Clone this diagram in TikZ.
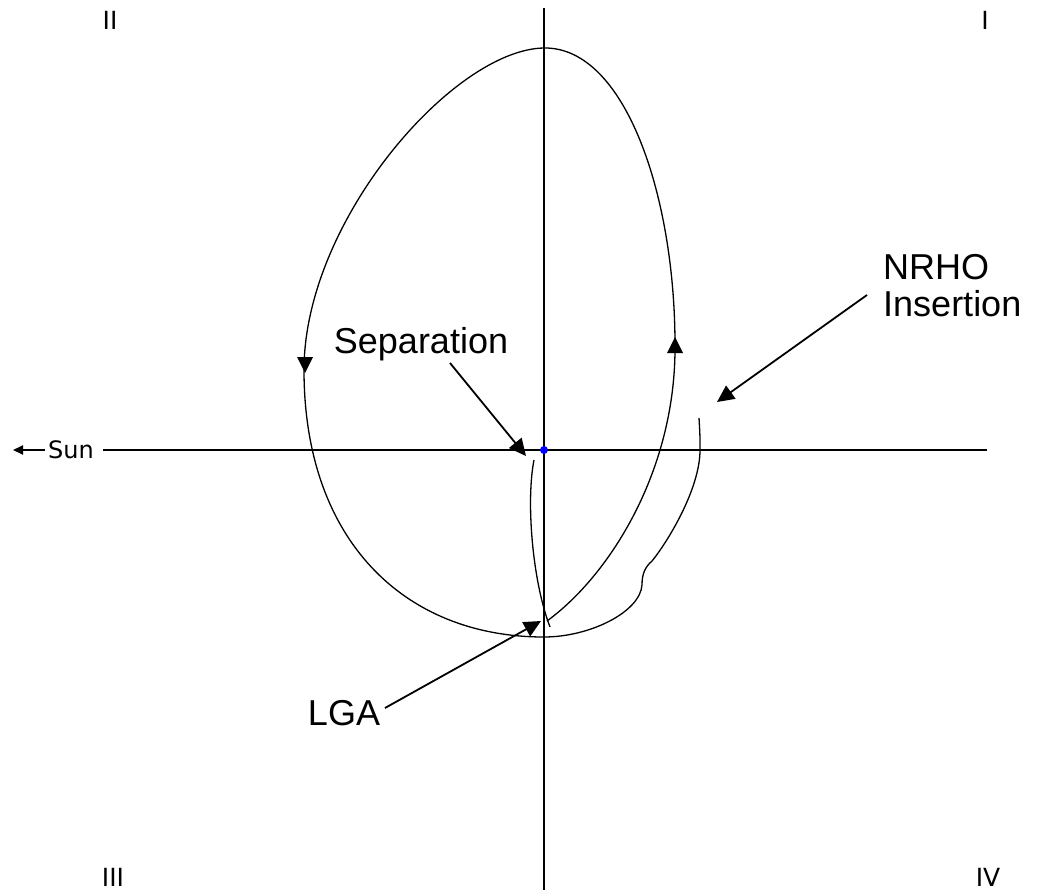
\documentclass[tikz,border=0pt]{standalone}
\usepackage{fontspec}
\setmainfont{Liberation Sans}
\newfontfamily\smallfont{DejaVu Sans}
\usetikzlibrary{arrows.meta}
\tikzset{
  axisline/.style={line width=1.7pt},
  traj/.style={line width=1.3pt},
  callout/.style={line width=1.8pt,-{Triangle[length=17pt,width=16pt]}},
  biglabel/.style={font=\fontsize{36}{38}\selectfont,inner sep=0pt},
  quadlabel/.style={font=\smallfont\fontsize{25}{27}\selectfont,inner sep=0pt},
}
\begin{document}
\begin{tikzpicture}[x=1pt,y=-1pt]
\useasboundingbox (0,0) rectangle (1043,893);
% axes
\coordinate (hl) at (103,450);
\coordinate (hr) at (987,450);
\coordinate (vt) at (544,8);
\coordinate (vb) at (544,890);
\draw[axisline] (hl) -- (hr);
\draw[axisline] (vt) -- (vb);
% sun
\node[quadlabel,font=\smallfont\fontsize{24}{26}\selectfont,anchor=base] (sun) at (71,458) {Sun};
\coordinate (suntail) at (45,450);
\coordinate (suntip) at (13,450);
\draw[line width=2pt,-{Triangle[length=10pt,width=9pt]}] (suntail) -- (suntip);
% quadrant labels
\node[quadlabel] (q2) at (110,20) {II};
\node[quadlabel] (q1) at (985,20) {I};
\node[quadlabel] (q3) at (113,877) {III};
\node[quadlabel] (q4) at (988,877) {IV};
% separation to LGA trajectory
\draw[traj] (534,460) .. controls (526,500) and (532,580) .. (550,627);
% main loop and insertion
\draw[traj] (547,621)
  .. controls (610,575) and (676,470) .. (675,345)
  .. controls (675,195) and (625,48) .. (545,48)
  .. controls (455,48) and (304,220) .. (304,370)
  .. controls (304,540) and (404,637) .. (544,637)
  .. controls (590,637) and (640,612) .. (642,585)
  .. controls (642,574) and (645,567) .. (652,561)
  .. controls (666,544) and (700,490) .. (700,450)
  .. controls (700,435) .. (699,418);
% direction arrows on the loop
\fill (305,373) -- (297,357) -- (313,357) -- cycle;
\fill (675,337) -- (667,353) -- (683,353) -- cycle;
% center point
\fill[blue] (544,450) circle (4pt);
% labels and callouts
\node[biglabel,anchor=base] (sep) at (421,353) {Separation};
\coordinate (septail) at (450,363);
\coordinate (septip) at (526,456);
\draw[callout] (septail) -- (septip);
\node[biglabel,anchor=base] (lga) at (344,725) {LGA};
\coordinate (lgatail) at (385,708);
\coordinate (lgatip) at (541,621);
\draw[callout] (lgatail) -- (lgatip);
\node[biglabel,anchor=base west,align=left,font=\fontsize{36}{37}\selectfont] (nrho) at (883,316) {NRHO\\Insertion};
\coordinate (nrhotail) at (867,295);
\coordinate (nrhotip) at (717,402);
\draw[callout] (nrhotail) -- (nrhotip);
\end{tikzpicture}
\end{document}
